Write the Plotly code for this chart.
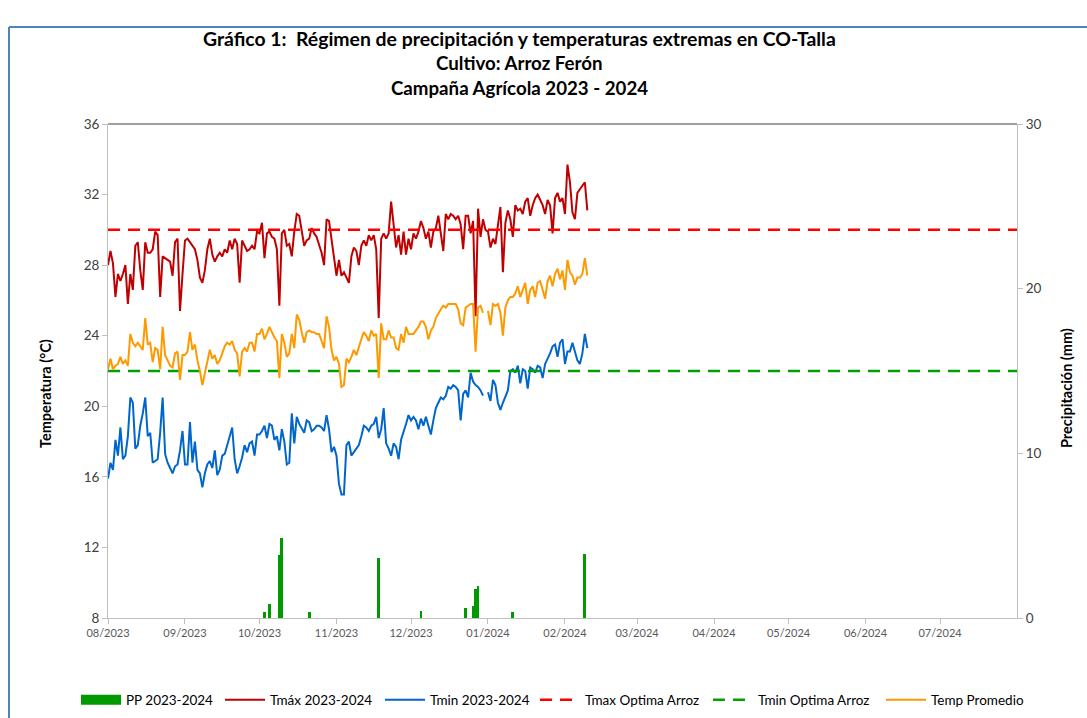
import pandas as pd
import plotly.graph_objects as go

# ---------------- data ----------------
start_date = "2023-08-01"

tmax = [28.0, 28.8, 28.1, 26.2, 27.5, 27.1, 27.5, 28.0, 25.8, 27.5,
        26.6, 29.1, 29.3, 27.7, 26.6, 29.3, 28.7, 28.7, 28.9, 29.9,
        29.7, 26.2, 28.5, 28.4, 28.3, 28.2, 27.4, 29.3, 29.5, 25.4,
        27.5, 29.4, 29.5, 29.3, 29.1, 28.9, 28.3, 27.3, 27.0, 27.7,
        28.9, 29.5, 28.6, 28.2, 28.5, 28.7, 28.5,
        28.9, 28.7, 29.4, 28.9, 29.5, 29.2, 27.0, 29.4, 29.1, 28.8,
        28.9, 29.1, 28.9, 29.9, 29.8, 30.4, 28.4, 29.8, 29.9, 29.6,
        29.5, 28.9, 25.7, 29.8, 30.0, 29.1, 29.2, 28.5, 29.9, 30.9,
        30.8, 30.0, 29.1, 29.4, 29.5, 30.1, 29.8, 29.6, 29.2, 28.7,
        28.0, 30.6, 30.5, 29.4, 28.3, 27.4, 28.3, 27.4,
        27.6, 27.3, 27.0, 28.5, 29.0, 28.8, 28.0, 29.1, 29.4, 29.1,
        29.7, 29.4, 29.7, 28.9, 25.0, 29.5, 29.8, 29.5, 29.8, 31.6,
        30.3, 29.0, 29.7, 28.6, 29.9, 28.6, 29.5, 28.9, 29.8, 29.5,
        29.9, 30.5, 30.1, 29.5, 29.9, 29.0, 29.9, 30.1, 30.8, 29.8,
        28.8, 30.9, 30.6, 30.9, 30.8, 30.6, 30.8, 30.3, 28.9,
        30.8, 30.8, 29.8, 30.5, 25.1, 31.2, 29.6, 30.6, 30.0, 29.9,
        29.0, 29.5, 29.2, 30.4, 31.3, 27.6, 30.4, 31.1, 30.6, 29.6,
        31.4, 31.1, 31.2, 30.9, 31.6, 31.8, 30.8, 31.4, 31.8, 32.0,
        31.7, 31.4, 30.9, 31.7, 31.4, 29.8, 31.8, 32.1, 31.6, 31.8,
        30.9, 33.7, 32.7, 31.0, 30.6, 32.1, 32.3, 32.5, 32.7, 31.1]

tmin = [15.9, 16.8, 16.4, 18.1, 17.2, 18.8, 17.0, 17.2, 18.3, 20.5,
        20.2, 17.6, 17.8, 18.9, 19.6, 20.5, 18.3, 18.5, 16.8, 16.9,
        17.0, 18.5, 20.5, 17.3, 16.8, 16.5, 16.2, 16.6, 16.7, 17.5,
        18.6, 16.7, 16.7, 19.1, 16.8, 18.0, 16.4, 16.2, 15.4, 16.2,
        16.7, 16.9, 16.5, 17.5, 16.1, 16.4, 17.2,
        17.3, 17.8, 18.3, 18.8, 17.0, 16.2, 16.6, 17.1, 17.8, 17.4,
        17.9, 18.0, 17.2, 18.4, 18.4, 18.6, 18.9, 18.2, 19.0, 18.9,
        18.1, 18.3, 17.5, 18.7, 18.0, 16.7, 16.8, 19.6, 17.9, 19.4,
        19.0, 18.7, 18.5, 19.2, 19.1, 18.6, 18.7, 18.9, 18.9, 18.8,
        18.6, 19.5, 18.7, 17.4, 17.7, 17.2, 15.6, 15.0, 15.0,
        17.8, 18.0, 17.2, 17.4, 17.6, 17.8, 18.3, 18.9, 18.8, 18.6,
        18.9, 19.0, 19.4, 18.2, 18.7, 19.9, 17.9, 17.6, 17.2, 17.9,
        17.7, 17.0, 18.1, 18.5, 19.0, 19.5, 19.2, 19.4, 19.2, 18.7,
        19.3, 18.9, 19.4, 18.9, 18.4, 19.2, 19.9, 20.2, 20.5, 20.4,
        20.6, 21.1, 21.0, 21.2, 21.1, 20.9, 19.2, 20.7, 20.9, 20.5,
        21.9, 21.4, 21.2, 21.1, 20.9, 20.6, None,
        20.8, 20.3, 21.5, 21.2, 20.2, 19.8, 20.2, 20.6, 20.9, 22.0,
        22.1, 21.9, 22.3, 21.3, 22.1, 22.0, 21.0, 22.2, 22.1, 21.9,
        22.3, 22.2, 21.6, 22.4, 22.7, 23.0, 23.4, 23.5, 22.8, 23.6,
        23.8, 22.4, 23.1, 23.1, 23.6, 23.1, 22.6, 22.4, 23.0, 24.1,
        23.3]

tprom = [22.1, 22.7, 22.1, 22.3, 22.4, 22.8, 22.4, 22.6, 22.3, 24.1,
         23.6, 23.4, 23.6, 23.4, 23.2, 25.0, 23.5, 23.6, 22.5, 23.3,
         23.2, 22.1, 24.5, 22.9, 22.6, 22.3, 22.2, 23.0, 23.1, 21.5,
         22.9, 22.9, 23.1, 24.2, 23.2, 23.5, 22.6, 22.0, 21.2, 21.9,
         22.5, 23.2, 22.7, 22.9, 22.4, 22.6, 23.0,
         23.4, 23.6, 23.5, 23.7, 23.2, 23.0, 21.7, 23.1, 23.3, 23.1,
         23.6, 23.6, 23.1, 24.1, 24.1, 24.4, 23.8, 24.1, 24.5, 24.2,
         23.9, 23.7, 21.6, 24.1, 23.6, 22.8, 23.0, 24.1, 23.3, 25.2,
         24.9, 24.2, 23.6, 24.2, 24.3, 24.2, 24.2, 24.1, 24.1, 23.7,
         23.3, 25.1, 24.5, 23.2, 22.6, 22.8, 22.4, 21.1, 21.2,
         22.7, 22.5, 22.8, 23.2, 22.9, 23.4, 23.8, 24.2, 24.0, 23.7,
         24.3, 24.0, 24.1, 21.6, 24.7, 23.8, 23.8, 24.3, 23.9, 23.9,
         23.3, 23.2, 24.1, 23.6, 24.5, 24.1, 24.1, 24.1, 24.3, 24.5,
         24.8, 24.8, 24.5, 23.8, 24.3, 24.5, 25.0, 25.3, 25.5, 25.7,
         25.6, 25.8, 25.8, 25.8, 25.8, 25.5, 24.7, 24.6, 25.6, 25.7,
         25.8, 25.8, 23.1, 25.6, 25.7, 25.3, None,
         25.4, 24.6, 25.8, 25.7, 25.8, 25.3, 24.0, 25.6, 26.0, 26.2,
         26.2, 26.4, 26.8, 26.2, 26.6, 27.0, 25.8, 26.6, 26.8, 26.2,
         27.0, 27.1, 26.6, 26.1, 27.1, 27.4, 26.8, 27.5, 27.8, 27.2,
         27.7, 26.6, 28.3, 27.6, 27.4, 26.9, 27.3, 27.3, 27.5, 28.4,
         27.4]

pp_dates = ["2023-10-03", "2023-10-05", "2023-10-09", "2023-10-10",
            "2023-10-21", "2023-11-18", "2023-12-05", "2023-12-23",
            "2023-12-26", "2023-12-27", "2023-12-28", "2024-01-11",
            "2024-02-09"]
pp_values = [0.35, 0.85, 3.85, 4.85, 0.35, 3.65, 0.45, 0.6,
             0.7, 1.75, 1.95, 0.35, 3.9]

tmax_optima = 30
tmin_optima = 22
campaign_range = ["2023-08-01", "2024-08-01"]

tick_dates = ["2023-08-01", "2023-09-01", "2023-10-01", "2023-11-01",
              "2023-12-01", "2024-01-01", "2024-02-01", "2024-03-01",
              "2024-04-01", "2024-05-01", "2024-06-01", "2024-07-01"]
tick_labels = ["08/2023", "09/2023", "10/2023", "11/2023", "12/2023",
               "01/2024", "02/2024", "03/2024", "04/2024", "05/2024",
               "06/2024", "07/2024"]

title_lines = ["Gráfico 1:&nbsp; Régimen de precipitación y temperaturas extremas en CO-Talla",
               "Cultivo: Arroz Ferón",
               "Campaña Agrícola 2023 - 2024"]

# ---------------- figure ----------------
dates = pd.date_range(start_date, periods=len(tmax), freq="D")
FONT = "Lato"
PP_GREEN = "#009900"

W, H = 1087, 718
L, R, T, B = 108, 1017, 124, 618
def px(x):
    return (x - L) / (R - L)
def py(y):
    return (B - y) / (B - T)

fig = go.Figure()
fig.add_trace(go.Bar(x=pd.to_datetime(pp_dates), y=pp_values, name="PP 2023-2024",
                     marker=dict(color=PP_GREEN, line=dict(width=0)),
                     width=86400000 * 1.15, yaxis="y2", showlegend=False,
                     legendgroup="pp"))
# legend swatch for the precipitation bars (wide box like the original)
fig.add_trace(go.Scatter(x=[None], y=[None], name="PP 2023-2024", mode="lines",
                         line=dict(color=PP_GREEN, width=14), legendgroup="pp",
                         yaxis="y2", legend="legend"))
fig.add_trace(go.Scatter(x=dates, y=tmax, name="Tmáx 2023-2024", mode="lines",
                         line=dict(color="#C00000", width=2), legend="legend2"))
fig.add_trace(go.Scatter(x=dates, y=tmin, name="Tmin 2023-2024", mode="lines",
                         line=dict(color="#0066CC", width=2), legend="legend3"))
fig.add_trace(go.Scatter(x=campaign_range, y=[tmax_optima] * 2, name="Tmax Optima Arroz",
                         mode="lines", line=dict(color="#FF0000", width=2.5, dash="12px,8px"),
                         legend="legend4"))
fig.add_trace(go.Scatter(x=campaign_range, y=[tmin_optima] * 2, name="Tmin Optima Arroz",
                         mode="lines", line=dict(color="#00A000", width=2.5, dash="12px,8px"),
                         legend="legend5"))
fig.add_trace(go.Scatter(x=dates, y=tprom, name="Temp Promedio", mode="lines",
                         line=dict(color="#FF9900", width=2), legend="legend6"))

annotations = []
for txt, yy, fs in zip(title_lines, [38, 63, 88], [19.4, 18.7, 18.7]):
    annotations.append(dict(text="<b>" + txt + "</b>", xref="paper", yref="paper",
                            x=px(519), y=py(yy), showarrow=False, xanchor="center",
                            yanchor="middle", font=dict(family=FONT, size=fs, color="black")))
annotations.append(dict(text="<b>Temperatura (°C)</b>", xref="paper", yref="paper",
                        x=px(45), y=py(393), textangle=-90, showarrow=False,
                        xanchor="center", yanchor="middle",
                        font=dict(family=FONT, size=14.5, color="black")))
annotations.append(dict(text="<b>Precipitación (mm)</b>", xref="paper", yref="paper",
                        x=px(1067), y=py(388), textangle=-90, showarrow=False,
                        xanchor="center", yanchor="middle",
                        font=dict(family=FONT, size=14.5, color="black")))

shapes = [
    dict(type="line", xref="paper", yref="paper", x0=0, x1=1, y0=1, y1=1,
         line=dict(color="#404040", width=1.2)),
    dict(type="line", xref="paper", yref="paper", x0=px(9), x1=px(9), y0=py(27), y1=py(720),
         line=dict(color="#4F81BD", width=2)),
    dict(type="line", xref="paper", yref="paper", x0=px(9), x1=px(1090), y0=py(27), y1=py(27),
         line=dict(color="#4F81BD", width=2)),
]

def legend_at(xpix):
    return dict(orientation="h", x=px(xpix), y=py(700), xanchor="left", yanchor="middle",
                font=dict(family=FONT, size=13.5, color="black"), itemwidth=40,
                bgcolor="rgba(0,0,0,0)")

fig.update_layout(
    width=W, height=H,
    margin=dict(l=L, r=W - R, t=T, b=H - B, autoexpand=False),
    paper_bgcolor="white", plot_bgcolor="white",
    font=dict(family=FONT, size=13, color="#404040"),
    showlegend=True,
    legend=legend_at(76),
    legend2=legend_at(220),
    legend3=legend_at(380),
    legend4=legend_at(535),
    legend5=legend_at(708),
    legend6=legend_at(881),
    bargap=0,
    annotations=annotations,
    shapes=shapes,
    xaxis=dict(type="date", range=campaign_range, tickvals=tick_dates, ticktext=tick_labels,
               showgrid=False, zeroline=False, showline=True, linecolor="#BFBFBF",
               ticks="outside", ticklen=5, tickcolor="#BFBFBF",
               tickfont=dict(family=FONT, size=11, color="#595959")),
    yaxis=dict(range=[8, 36], dtick=4, showgrid=False, zeroline=False, showline=True,
               linecolor="#BFBFBF", ticks="outside", ticklen=5, tickcolor="#BFBFBF",
               tickfont=dict(family=FONT, size=13.5, color="#404040")),
    yaxis2=dict(range=[0, 30], dtick=10, overlaying="y", side="right", showgrid=False,
                zeroline=False, showline=True, linecolor="#BFBFBF", ticks="outside",
                ticklen=5, tickcolor="#BFBFBF",
                tickfont=dict(family=FONT, size=13.5, color="#404040")),
)

fig.write_html("out.html", config={"displayModeBar": False},
               post_script="document.body.style.margin='0';document.body.style.overflow='hidden';")
